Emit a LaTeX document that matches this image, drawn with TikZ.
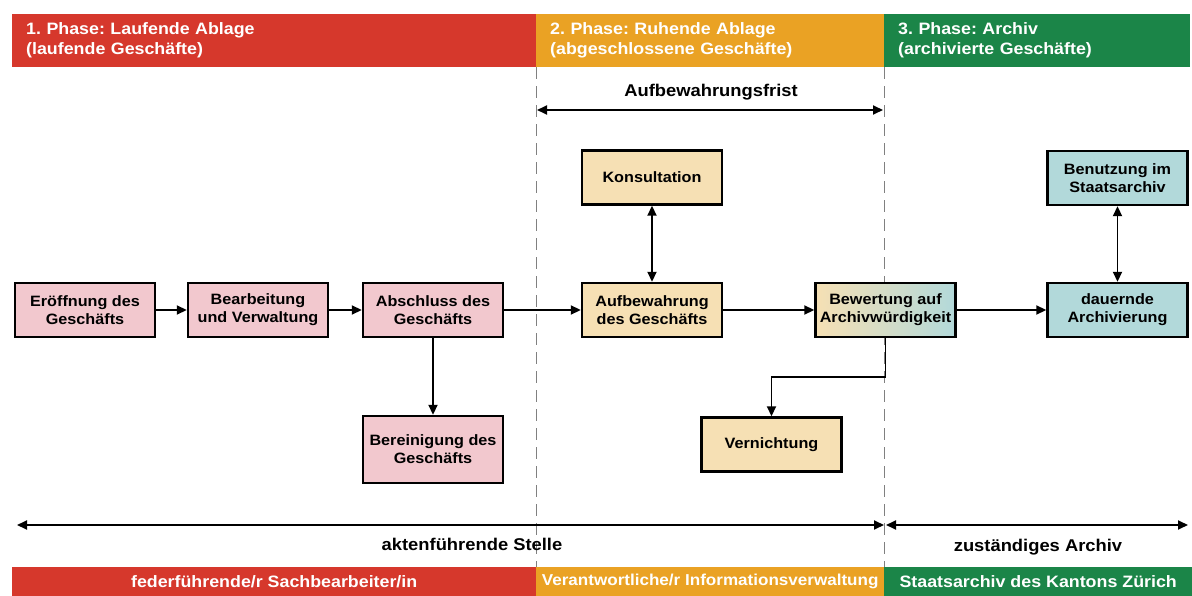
\documentclass[tikz,border=0pt]{standalone}
\usepackage{fontspec}
\setmainfont{Liberation Sans}[FakeStretch=1.08]
\usetikzlibrary{arrows.meta}
\frenchspacing

\definecolor{phasered}{RGB}{214,56,44}
\definecolor{phaseorange}{RGB}{234,162,36}
\definecolor{phasegreen}{RGB}{27,133,72}
\definecolor{boxpink}{RGB}{242,200,206}
\definecolor{boxbeige}{RGB}{246,224,180}
\definecolor{boxteal}{RGB}{178,217,218}

\begin{document}
\begin{tikzpicture}[x={(1pt,0pt)}, y={(0pt,-1pt)},
    box/.style={draw, line width=2.4pt, minimum width=140pt, minimum height=54pt,
      inner sep=2pt, align=center, font=\bfseries\fontsize{15}{18}\selectfont},
    phase1 box/.style={box, fill=boxpink},
    phase2 box/.style={box, fill=boxbeige},
    phase3 box/.style={box, fill=boxteal},
    phase bar/.style={anchor=north west, minimum height=53pt, inner xsep=14pt, inner ysep=0pt,
      align=left, text=white, font=\bfseries\fontsize{16.5}{20}\selectfont},
    role bar/.style={anchor=north west, minimum height=29pt, inner sep=0pt,
      text=white, font=\bfseries\fontsize{16.5}{20}\selectfont},
    span text/.style={font=\bfseries\fontsize{17}{20}\selectfont},
    conn/.style={-{Triangle[length=10pt,width=9pt]}, line width=1.8pt},
    both conn/.style={{Triangle[length=10pt,width=9pt]}-{Triangle[length=10pt,width=9pt]}, line width=1.8pt},
    divider/.style={draw=gray, line width=0.8pt, dash pattern=on 12pt off 7pt}
  ]
  \useasboundingbox (0,0) rectangle (1192,596);

  % Phases
  \node[phase bar, fill=phasered, text width=496pt] (ph1) at (12,14)
    {1. Phase: Laufende Ablage\\(laufende Geschäfte)};
  \node[phase bar, fill=phaseorange, text width=320pt] (ph2) at (536,14)
    {2. Phase: Ruhende Ablage\\(abgeschlossene Geschäfte)};
  \node[phase bar, fill=phasegreen, text width=278pt] (ph3) at (884,14)
    {3. Phase: Archiv\\(archivierte Geschäfte)};

  % Responsible persons
  \node[role bar, fill=phasered, minimum width=524pt] (role1) at (12,567)
    {federführende/r Sachbearbeiter/in};
  \node[role bar, fill=phaseorange, minimum width=348pt,
    font=\bfseries\fontsize{15.8}{20}\selectfont] (role2) at (536,567)
    {Verantwortliche/r Informationsverwaltung};
  \node[role bar, fill=phasegreen, minimum width=308pt] (role3) at (884,567)
    {Staatsarchiv des Kantons Zürich};

  % Phase borders
  \draw[divider] (ph2.south west) -- (role2.north west);
  \draw[divider] (ph3.south west) -- (role3.north west);

  % Retention period
  \coordinate (frist-l) at (537,110);
  \coordinate (frist-r) at (883,110);
  \draw[both conn] (frist-l) -- (frist-r);
  \node[span text] (frist) at (711,92) {Aufbewahrungsfrist};

  % Phase 1
  \node[phase1 box] (eroeff) at (85,310) {Eröffnung des\\Geschäfts};
  \node[phase1 box] (bearb) at (258,310) {Bearbeitung\\und Verwaltung};
  \node[phase1 box] (absch) at (433,310) {Abschluss des\\Geschäfts};
  \node[phase1 box, minimum height=67pt] (berein) at (433,449.5) {Bereinigung des\\Geschäfts};

  % Phase 2
  \node[phase2 box] (konsult) at (652,177.5) {Konsultation};
  \node[phase2 box] (aufbew) at (652,310) {Aufbewahrung\\des Geschäfts};
  \node[phase2 box] (vernicht) at (771.5,444.5) {Vernichtung};
  \node[box, left color=boxbeige, right color=boxteal] (bewert) at (885.5,310)
    {Bewertung auf\\Archivwürdigkeit};

  % Phase 3
  \node[phase3 box] (benutz) at (1117.5,178) {Benutzung im\\Staatsarchiv};
  \node[phase3 box] (archiv) at (1117.5,310) {dauernde\\Archivierung};

  % Connections
  \foreach \a/\b in {eroeff/bearb, bearb/absch, absch/aufbew, aufbew/bewert, bewert/archiv}
    \draw[conn] (\a) -- (\b);
  \draw[conn] (absch) -- (berein);
  \draw[conn] (bewert.south) -- ++(0,39) -| (vernicht.north);
  \draw[both conn] (konsult) -- (aufbew);
  \draw[both conn] (benutz) -- (archiv);

  % Responsible offices
  \coordinate (akten-l) at (17,525);
  \coordinate (akten-r) at (884,525);
  \coordinate (zust-l) at (886,525);
  \coordinate (zust-r) at (1188,525);
  \draw[both conn] (akten-l) -- (akten-r);
  \draw[both conn] (zust-l) -- (zust-r);
  \node[span text] (akten) at (472,544) {aktenführende Stelle};
  \node[span text] (zust) at (1038,547) {zuständiges Archiv};

\end{tikzpicture}
\end{document}
